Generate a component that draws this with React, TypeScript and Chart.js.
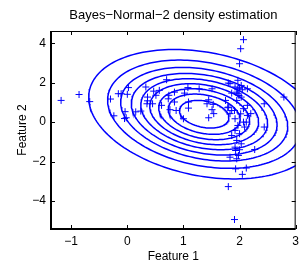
import React, { useEffect, useRef } from "react";
import { Chart, registerables } from "chart.js";

Chart.register(...registerables);

const TITLE = "Bayes\u2212Normal\u22122 density estimation";
const X_LABEL = "Feature 1";
const Y_LABEL = "Feature 2";
const X_RANGE = [-1.36, 3];
const Y_RANGE = [-5.42, 4.62];
const X_TICKS = [-1, 0, 1, 2, 3];
const Y_TICKS = [-4, -2, 0, 2, 4];

const featureX = [
  -1.18, -0.86, -0.67, -0.3, -0.16, -0.11, 0.02, 0.0, -0.24, -0.04,
  -0.05, -0.02, 0.15, 0.24, 0.33, 0.35, 0.36, 0.36, 0.47, 0.45,
  0.51, 0.57, 0.61, 0.7, 0.74, 0.76, 0.84, 0.87, 0.84, 1.02,
  1.08, 1.09, 1.09, 1.0, 1.28, 1.51, 1.42, 1.51, 1.54, 1.45,
  1.75, 1.79, 1.83, 1.91, 1.86, 1.8, 2.07, 2.02, 2.0, 1.97,
  1.83, 1.92, 1.97, 2.03, 1.95, 1.97, 2.03, 1.95, 1.8, 1.86,
  1.92, 2.07, 2.12, 1.97, 2.09, 1.92, 2.0, 1.86, 1.95, 2.03,
  1.92, 2.0, 1.93, 1.83, 1.95, 2.27, 1.93, 2.12, 2.05, 1.8,
  1.91, 2.14, 2.2, 2.14, 2.79, 2.44, 2.44, 2.14, 2.05, 0.73,
  2.07, 2.02, 1.98, 2.0, 1.99, 1.45, 1.53,
];
const featureY = [
  1.1, 1.4, 1.04, 1.17, 1.44, 1.44, 1.75, 1.41, 0.32, 0.53,
  0.18, 0.22, 0.52, 0.56, 1.78, 0.93, 1.27, 1.08, 1.57, 0.93,
  1.36, 1.61, 0.85, 2.15, 1.36, 0.63, 1.02, 0.59, 1.52, 1.47,
  1.75, 1.02, 0.71, 0.17, 1.69, 1.69, 0.93, 0.63, 0.43, 0.22,
  1.1, 0.73, 0.43, 0.59, 1.47, 1.98, 4.18, 3.72, 2.96, 2.12,
  1.95, 1.78, 1.69, 1.86, 1.52, 1.44, 1.27, 1.1, 0.76, 0.59,
  0.17, 0.0, 0.0, -0.17, -0.25, -0.42, -0.59, -0.68, -0.93, -1.1,
  -1.27, -1.4, -1.44, -1.78, -1.86, -1.39, -2.37, -2.33, -2.65, -3.27,
  -4.94, 0.85, 0.43, 0.34, 1.27, 0.93, -0.25, 1.69, 1.64, 1.18,
  0.68, 0.42, -1.69, 1.74, 1.35, 1.13, 0.9,
];

// Fitted normal density: mean, covariance, and contour levels (fraction of peak density)
const gaussMean = [1.37, 0.4];
const gaussCov = [
  [0.92, -0.38],
  [-0.38, 2.34],
];
const contourLevels = [0.1, 0.2, 0.3, 0.4, 0.5, 0.6, 0.7, 0.8, 0.9];

const BLUE = "#0000ff";
const FONT = "'Liberation Sans', Arial, Helvetica, sans-serif";

function contourPoints(level: number) {
  const r = Math.sqrt(-2 * Math.log(level));
  const l11 = Math.sqrt(gaussCov[0][0]);
  const l21 = gaussCov[1][0] / l11;
  const l22 = Math.sqrt(gaussCov[1][1] - l21 * l21);
  const pts: { x: number; y: number }[] = [];
  const n = 180;
  for (let i = 0; i <= n; i++) {
    const t = (2 * Math.PI * i) / n;
    const c = Math.cos(t);
    const s = Math.sin(t);
    pts.push({
      x: gaussMean[0] + r * l11 * c,
      y: gaussMean[1] + r * (l21 * c + l22 * s),
    });
  }
  return pts;
}

const fmt = (v: number) => (v < 0 ? "\u2212" + Math.abs(v) : String(v));

const framePlugin = {
  id: "matlabFrame",
  afterDraw(chart: any) {
    const { ctx, chartArea } = chart;
    const { left, right, top, bottom } = chartArea;
    const xs = chart.scales.x;
    const ys = chart.scales.y;
    ctx.save();
    ctx.strokeStyle = "#000";
    ctx.lineWidth = 1;
    const tl = 4;
    ctx.beginPath();
    for (const v of X_TICKS) {
      const px = Math.round(xs.getPixelForValue(v)) + 0.5;
      ctx.moveTo(px, bottom);
      ctx.lineTo(px, bottom - tl);
      ctx.moveTo(px, top);
      ctx.lineTo(px, top + tl);
    }
    for (const v of Y_TICKS) {
      const py = Math.round(ys.getPixelForValue(v)) + 0.5;
      ctx.moveTo(left, py);
      ctx.lineTo(left + tl, py);
      ctx.moveTo(right, py);
      ctx.lineTo(right - tl, py);
    }
    ctx.stroke();
    ctx.lineWidth = 1;
    ctx.beginPath();
    ctx.moveTo(left, top + 0.5);
    ctx.lineTo(right, top + 0.5);
    ctx.moveTo(right - 0.5, top);
    ctx.lineTo(right - 0.5, bottom);
    ctx.stroke();
    ctx.lineWidth = 2;
    ctx.beginPath();
    ctx.moveTo(left, top);
    ctx.lineTo(left, bottom);
    ctx.lineTo(right, bottom);
    ctx.stroke();
    ctx.fillStyle = "#000";
    ctx.textAlign = "center";
    ctx.textBaseline = "middle";
    ctx.font = `13px ${FONT}`;
    ctx.fillText(TITLE, (left + right) / 2, 15.5);
    ctx.font = `12px ${FONT}`;
    ctx.fillText(X_LABEL, (left + right) / 2, 257);
    ctx.translate(23, (top + bottom) / 2);
    ctx.rotate(-Math.PI / 2);
    ctx.fillText(Y_LABEL, 0, 0);
    ctx.restore();
  },
};

export default function App() {
  const ref = useRef<HTMLCanvasElement | null>(null);
  useEffect(() => {
    if (!ref.current) return;
    const contourSets = contourLevels.map((lv) => ({
      type: "line" as const,
      data: contourPoints(lv),
      borderColor: BLUE,
      borderWidth: 1.5,
      pointRadius: 0,
      showLine: true,
      fill: false,
      tension: 0,
    }));
    const points = featureX.map((x, i) => ({ x, y: featureY[i] }));
    const chart = new Chart(ref.current, {
      type: "scatter",
      data: {
        datasets: [
          ...contourSets,
          {
            type: "scatter" as const,
            data: points,
            pointStyle: "cross",
            pointRadius: 3.5,
            borderColor: BLUE,
            backgroundColor: BLUE,
            borderWidth: 1,
          },
        ] as any,
      },
      options: {
        animation: false,
        responsive: false,
        devicePixelRatio: 1,
        layout: { padding: { top: 31, right: 2, left: 0, bottom: 0 } },
        plugins: { legend: { display: false }, tooltip: { enabled: false }, title: { display: false } },
        scales: {
          x: {
            type: "linear",
            min: X_RANGE[0],
            max: X_RANGE[1],
            afterBuildTicks: (s: any) => {
              s.ticks = X_TICKS.map((v) => ({ value: v }));
            },
            afterFit: (s: any) => {
              s.height = 35;
            },
            grid: { display: false, drawTicks: false },
            border: { display: false },
            ticks: {
              callback: (v: any) => fmt(Number(v)),
              color: "#000",
              font: { family: FONT, size: 12 },
              padding: 5,
              maxRotation: 0,
              autoSkip: false,
            },
          },
          y: {
            type: "linear",
            min: Y_RANGE[0],
            max: Y_RANGE[1],
            afterBuildTicks: (s: any) => {
              s.ticks = Y_TICKS.map((v) => ({ value: v }));
            },
            afterFit: (s: any) => {
              s.width = 51;
            },
            grid: { display: false, drawTicks: false },
            border: { display: false },
            ticks: {
              callback: (v: any) => fmt(Number(v)),
              color: "#000",
              font: { family: FONT, size: 12 },
              padding: 5,
              autoSkip: false,
            },
          },
        },
      },
      plugins: [framePlugin],
    });
    return () => chart.destroy();
  }, []);
  return (
    <div style={{ position: "absolute", left: 0, top: 0, width: 304, height: 264, background: "#fff" }}>
      <canvas ref={ref} width={304} height={264} style={{ display: "block" }} />
    </div>
  );
}
